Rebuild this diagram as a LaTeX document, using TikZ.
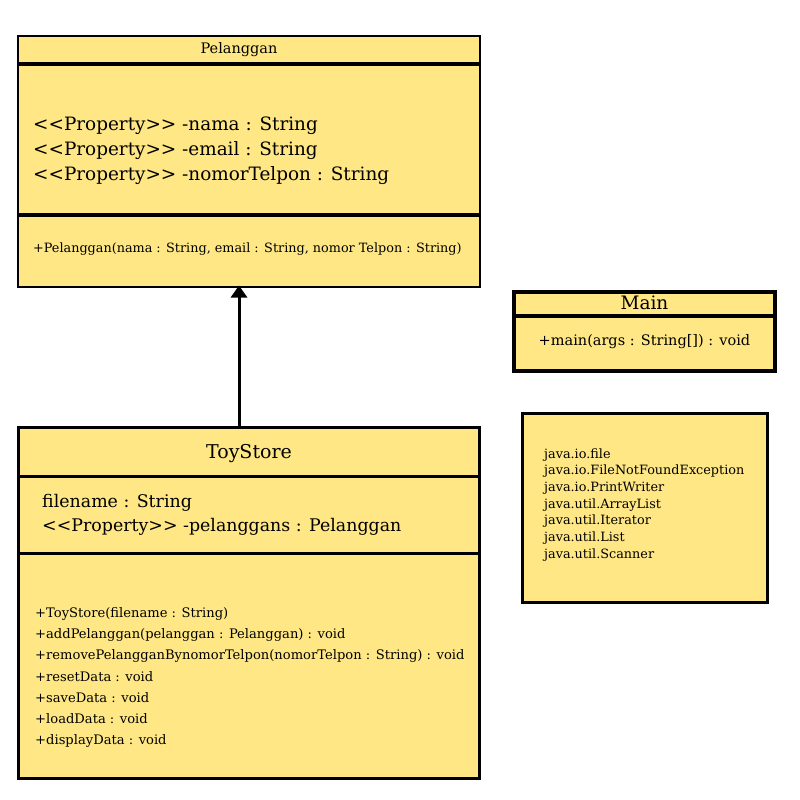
\documentclass[tikz,border=0pt]{standalone}
\usepackage{fontspec}
\setmainfont{DejaVu Serif}[Ligatures=TeXOff]
\usetikzlibrary{arrows.meta}
\definecolor{umlfill}{HTML}{FEE784}
\begin{document}
\begin{tikzpicture}[x=1pt,y=-1pt,
  cls/.style={draw=black,fill=umlfill,inner sep=0pt,outer sep=0pt,anchor=north west},
  sep/.style={line width=#1},
  txt/.style={anchor=base west,inner sep=0pt},
  ctxt/.style={anchor=base,inner sep=0pt}]
\useasboundingbox (0,0) rectangle (800,800);
% Pelanggan
\node[cls,line width=2pt,minimum width=462pt,minimum height=250pt] (pel) at (17.5,36.5) {};
\draw[sep=3.5pt] (pel.west |- 0,64) -- (pel.east |- 0,64);
\draw[sep=3.5pt] (pel.west |- 0,215) -- (pel.east |- 0,215);
\node[ctxt,font=\fontsize{14.5}{16}\selectfont] (pelt) at (239,53) {Pelanggan};
\foreach \t [count=\i] in {-nama : String,-email : String,-nomorTelpon : String}
  \node[txt,font=\fontsize{18.4}{20}\selectfont] (pela\i) at (33,{105+25*\i}) {<<Property>> \t};
\node[txt,font=\fontsize{12.8}{14}\selectfont] (pelm) at (33,252) {+Pelanggan(nama : String, email : String, nomor Telpon : String)};
% Main
\node[cls,line width=3.5pt,minimum width=261pt,minimum height=79pt] (main) at (514,292) {};
\draw[sep=3.5pt] (main.west |- 0,316) -- (main.east |- 0,316);
\node[ctxt,font=\fontsize{18.5}{20}\selectfont] (maint) at (644.5,309) {Main};
\node[ctxt,font=\fontsize{14.5}{16}\selectfont] (mainm) at (644.5,345) {+main(args : String[]) : void};
% Imports
\node[cls,line width=3pt,minimum width=245pt,minimum height=189pt] (imp) at (522.5,413) {};
\foreach \t [count=\i] in {java.io.file,java.io.FileNotFoundException,java.io.PrintWriter,java.util.ArrayList,java.util.Iterator,java.util.List,java.util.Scanner}
  \node[txt,font=\fontsize{12.8}{14}\selectfont] (imp\i) at (544,{441.3+16.7*\i}) {\t};
% ToyStore
\node[cls,line width=3pt,minimum width=461pt,minimum height=351pt] (toy) at (18,427) {};
\draw[sep=3pt] (toy.west |- 0,476) -- (toy.east |- 0,476);
\draw[sep=3pt] (toy.west |- 0,553) -- (toy.east |- 0,553);
\node[ctxt,font=\fontsize{19}{20}\selectfont] (toyt) at (249,458) {ToyStore};
\node[txt,font=\fontsize{17.4}{20}\selectfont] (toya1) at (42,507) {filename : String};
\node[txt,font=\fontsize{17.4}{20}\selectfont] (toya2) at (42,531) {<<Property>> -pelanggans : Pelanggan};
\foreach \t [count=\i] in {+ToyStore(filename : String),+addPelanggan(pelanggan : Pelanggan) : void,+removePelangganBynomorTelpon(nomorTelpon : String) : void,+resetData : void,+saveData : void,+loadData : void,+displayData : void}
  \node[txt,font=\fontsize{13.1}{14}\selectfont] (toym\i) at (35,{596.3+21.2*\i}) {\t};
% Inheritance
\coordinate (ax) at (239,0);
\draw[line width=3pt,-{Triangle[length=12pt,width=16pt]}] (ax |- toy.north) -- ([yshift=1pt]ax |- pel.south);
\end{tikzpicture}
\end{document}
